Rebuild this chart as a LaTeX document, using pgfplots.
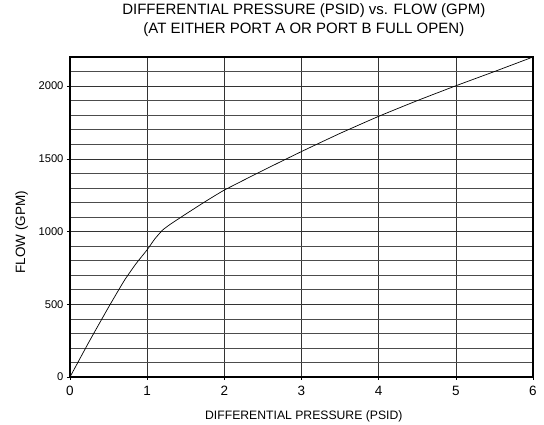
\documentclass[border=0pt]{standalone}
\usepackage{fontspec}
\setmainfont{Liberation Sans}
\usepackage{pgfplots}
\pgfplotsset{compat=1.18}
\begin{document}
\begin{tikzpicture}
\useasboundingbox (-70pt,-48pt) rectangle (474pt,377pt);
\begin{axis}[
  at={(0,0)}, anchor=south west,
  scale only axis, width=463pt, height=320pt,
  xmin=0, xmax=6, ymin=0, ymax=2200,
  xtick={0,1,2,3,4,5,6},
  ytick={0,500,1000,1500,2000},
  minor ytick={100,200,300,400,600,700,800,900,1100,1200,1300,1400,1600,1700,1800,1900,2100},
  grid=both,
  major grid style={black!80, line width=0.6pt},
  minor grid style={black!70, line width=0.6pt},
  axis line style={black, line width=1.3pt},
  tick align=outside,
  major tick length=3pt, minor tick length=0pt,
  tick style={black, line width=0.6pt},
  xtick pos=bottom, ytick pos=left,
  /pgf/number format/assume math mode=true,
  /pgf/number format/1000 sep={},
  xticklabel style={font=\fontsize{13.5}{15}\selectfont, anchor=base, yshift=-16pt},
  yticklabel style={font=\fontsize{11.2}{13}\selectfont},
  xlabel={DIFFERENTIAL PRESSURE (PSID)},
  xlabel style={at={(axis description cs:0.505,0)}, anchor=base, yshift=-42.3pt, inner sep=0pt, font=\fontsize{12.2}{14}\selectfont},
  title={DIFFERENTIAL PRESSURE (PSID) vs. FLOW (GPM)\\(AT EITHER PORT A OR PORT B FULL OPEN)},
  title style={at={(axis description cs:0.505,1)}, anchor=south, yshift=14.5pt, inner sep=0pt, align=center, font=\fontsize{15}{18.6}\selectfont},
  clip=false,
]
\addplot[black, line width=0.7pt, smooth, tension=0.3] coordinates {
  (0,0) (0.25,245) (0.5,480) (0.7,660) (0.85,775) (1,875) (1.1,950) (1.2,1010) (1.3,1050) (1.5,1120) (1.75,1205) (2,1285) (2.5,1420) (3,1550) (3.5,1675) (4,1792) (4.5,1900) (5,2002) (5.5,2100) (6,2200)
};
\node[rotate=90, anchor=center, inner sep=0pt, font=\fontsize{13.5}{15}\selectfont] at ([xshift=-48.3pt]rel axis cs:0,0.453) {FLOW (GPM)};
\end{axis}
\end{tikzpicture}
\end{document}
